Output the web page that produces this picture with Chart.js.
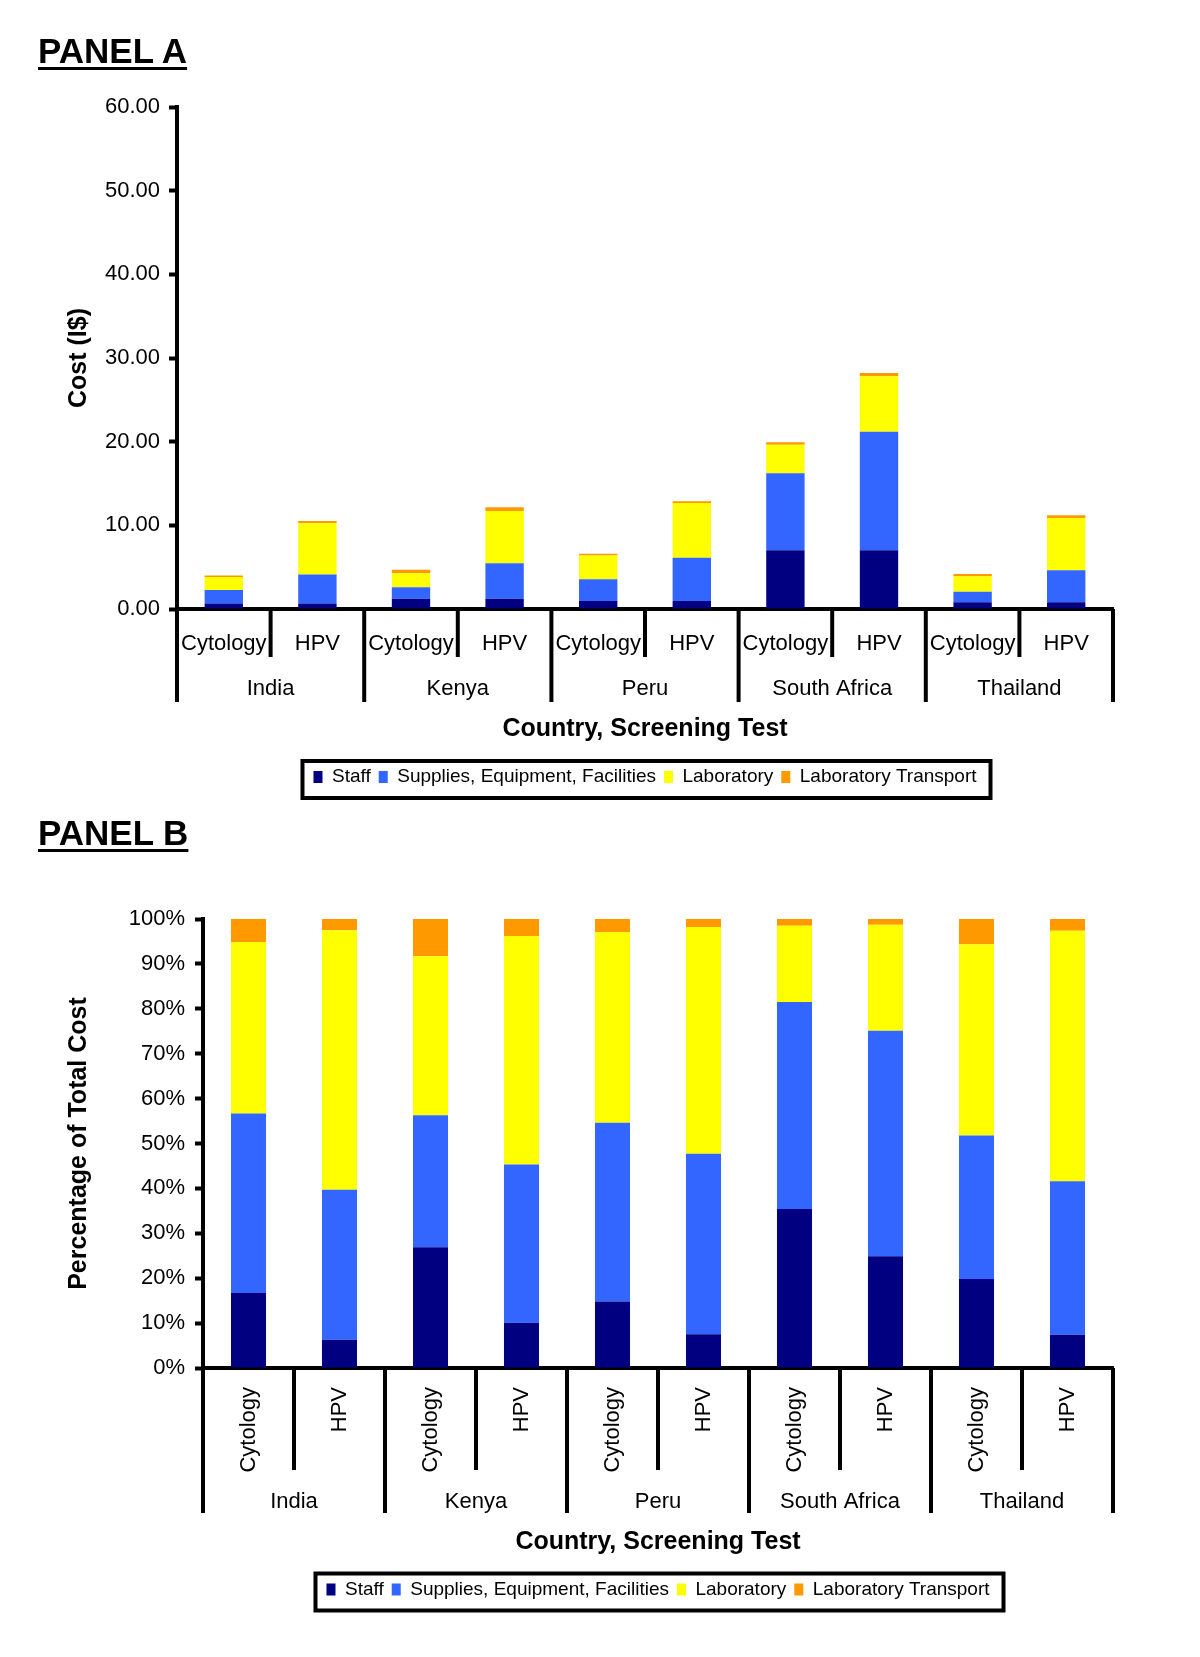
<!DOCTYPE html>
<html>
<head>
<meta charset="utf-8">
<script src="https://cdn.jsdelivr.net/npm/chart.js@4.4.1/dist/chart.umd.min.js"></script>
<style>
  body { margin: 0; background: #fff; width: 1200px; height: 1657px; position: relative; overflow: hidden; }
  canvas { position: absolute; left: 0; }
  #chartA { top: 0; }
  #chartB { top: 815px; }
  .panel-title {
    position: absolute; left: 38px; margin: 0;
    font: bold 35px "Liberation Sans", Arial, sans-serif; line-height: 35px;
    text-decoration: underline; text-decoration-thickness: 3px; text-underline-offset: 4px;
  }
</style>
</head>
<body>
<canvas id="chartA" width="1200" height="815"></canvas>
<canvas id="chartB" width="1200" height="842"></canvas>
<div class="panel-title" style="top:33px">PANEL A</div>
<div class="panel-title" style="top:815px">PANEL B</div>
<script>
var countries = ['India', 'Kenya', 'Peru', 'South Africa', 'Thailand'];
var tests = ['Cytology', 'HPV'];
var seriesNames = ['Staff', 'Supplies, Equipment, Facilities', 'Laboratory', 'Laboratory Transport'];
var seriesColors = ['#000080', '#3366FF', '#FFFF00', '#FF9900'];

// panel A - cost (I$), one value per country/test in label order
var costStaff     = [0.66, 0.66, 1.24, 1.24, 0.97, 0.97, 7.03, 7.03, 0.80, 0.80];
var costSupplies  = [1.60, 3.45, 1.36, 4.22, 2.60, 5.15, 9.20, 14.15, 1.27, 3.82];
var costLab       = [1.55, 6.15, 1.68, 6.25, 2.82, 6.55, 3.40, 6.65, 1.83, 6.26];
var costTransport = [0.20, 0.26, 0.40, 0.45, 0.20, 0.22, 0.30, 0.37, 0.28, 0.32];

// panel B - share of total cost (%)
var pctStaff     = [16.7, 6.3, 26.9, 10.1, 14.8, 7.5, 35.4, 24.9, 19.8, 7.4];
var pctSupplies  = [40.0, 33.4, 29.4, 35.2, 39.8, 40.2, 46.1, 50.2, 32.0, 34.2];
var pctLab       = [38.2, 57.8, 35.4, 50.9, 42.5, 50.5, 17.0, 23.6, 42.6, 55.8];
var pctTransport = [5.1, 2.5, 8.3, 3.8, 2.9, 1.8, 1.5, 1.3, 5.6, 2.6];

var FONT = '"Liberation Sans", Arial, Helvetica, sans-serif';
Chart.defaults.font.family = FONT;
Chart.defaults.color = '#000';

var labels = [];
countries.forEach(function (c) {
  tests.forEach(function (t) { labels.push(t); });
});

function makeDatasets(arrays, barPct) {
  return arrays.map(function (arr, i) {
    return {
      label: seriesNames[i],
      data: arr,
      backgroundColor: seriesColors[i],
      borderColor: seriesColors[i],
      borderWidth: 0,
      barPercentage: barPct,
      categoryPercentage: 1
    };
  });
}

var LEGEND_FONT = 19, LEGEND_PAD = 8, LEGEND_BOX = 9;

// excel-style two level category axis + boxed legend
var groupAxis = {
  id: 'groupAxis',
  afterLayout: function (chart) {
    // centre the legend under the plot area, not the whole canvas
    var L = chart.legend, a = chart.chartArea;
    var dx = (a.left + a.right) / 2 - (L.left + L.right) / 2;
    L.left += dx;
    L.right += dx;
  },
  afterDraw: function (chart, args, opts) {
    var x = chart.scales.x, ctx = chart.ctx;
    var n = chart.data.labels.length;
    var half = (x.getPixelForValue(1) - x.getPixelForValue(0)) / 2;
    ctx.save();
    ctx.strokeStyle = '#000';
    ctx.lineWidth = 4;
    for (var i = 0; i <= n; i++) {
      var px = i < n ? x.getPixelForValue(i) - half : x.getPixelForValue(n - 1) + half;
      var end = (i % tests.length === 0) ? opts.longEnd : opts.shortEnd;
      ctx.beginPath();
      ctx.moveTo(px, x.top);
      ctx.lineTo(px, end);
      ctx.stroke();
    }
    ctx.fillStyle = '#000';
    ctx.font = '22px ' + FONT;
    ctx.textAlign = 'center';
    ctx.textBaseline = 'middle';
    countries.forEach(function (c, k) {
      var cx = (x.getPixelForValue(k * 2) + x.getPixelForValue(k * 2 + 1)) / 2;
      ctx.fillText(c, cx, opts.countryY);
    });
    // frame around legend
    var L = chart.legend, lw = L.lineWidths[0];
    var sx = (L.left + LEGEND_PAD + L.right - lw) / 2;
    var ex = sx + lw - LEGEND_PAD;
    var cy = L.top + LEGEND_PAD + LEGEND_FONT / 2;
    ctx.lineWidth = 4;
    ctx.strokeRect(sx - 11, cy - 16, ex + 14 - (sx - 11), 37);
    ctx.restore();
  }
};

function makeOptions(cfg) {
  return {
    responsive: false,
    devicePixelRatio: 1,
    animation: false,
    events: [],
    layout: { padding: { top: cfg.top, left: 0, right: 87, bottom: cfg.bottom } },
    plugins: {
      legend: {
        position: 'bottom',
        labels: {
          boxWidth: LEGEND_BOX,
          boxHeight: 12,
          padding: LEGEND_PAD,
          color: '#000',
          font: { size: LEGEND_FONT }
        }
      },
      tooltip: { enabled: false },
      groupAxis: { shortEnd: cfg.shortEnd, longEnd: cfg.longEnd, countryY: cfg.countryY }
    },
    scales: {
      x: {
        stacked: true,
        afterFit: function (s) { s.height = cfg.xHeight; },
        grid: { display: true, drawOnChartArea: false, drawTicks: false },
        border: { color: '#000', width: 4 },
        ticks: {
          autoSkip: false,
          minRotation: cfg.rotation,
          maxRotation: cfg.rotation,
          padding: cfg.xPad,
          color: '#000',
          font: { size: 22 }
        },
        title: {
          display: true,
          text: 'Country, Screening Test',
          color: '#000',
          font: { size: 25, weight: 'bold' },
          padding: { top: 0, bottom: cfg.titlePad }
        }
      },
      y: {
        stacked: true,
        min: 0,
        max: cfg.yMax,
        afterFit: function (s) { s.width = cfg.yWidth; },
        grid: { drawOnChartArea: false, drawTicks: true, tickLength: 8, tickWidth: 4, tickColor: '#000' },
        border: { color: '#000', width: 4 },
        ticks: {
          stepSize: 10,
          padding: cfg.yPad,
          color: '#000',
          font: { size: 22 },
          callback: cfg.fmt
        },
        title: {
          display: true,
          text: cfg.yTitle,
          color: '#000',
          font: { size: 25, weight: 'bold' },
          padding: { top: 64, bottom: 0 }
        }
      }
    }
  };
}

new Chart(document.getElementById('chartA'), {
  type: 'bar',
  data: { labels: labels, datasets: makeDatasets([costStaff, costSupplies, costLab, costTransport], 0.41) },
  options: makeOptions({
    top: 107, bottom: 18.5, xHeight: 150.5, titlePad: 15.5, xPad: 22, yWidth: 177, yPad: 9,
    yMax: 60, rotation: 0, yTitle: 'Cost (I$)',
    shortEnd: 657, longEnd: 702, countryY: 689,
    fmt: function (v) { return Number(v).toFixed(2); }
  }),
  plugins: [groupAxis]
});

new Chart(document.getElementById('chartB'), {
  type: 'bar',
  data: { labels: labels, datasets: makeDatasets([pctStaff, pctSupplies, pctLab, pctTransport], 0.385) },
  options: makeOptions({
    top: 104, bottom: 48, xHeight: 204, titlePad: 15, xPad: 19, yWidth: 203, yPad: 10,
    yMax: 100, rotation: 90, yTitle: 'Percentage of Total Cost',
    shortEnd: 655, longEnd: 698, countryY: 687,
    fmt: function (v) { return v + '%'; }
  }),
  plugins: [groupAxis]
});
</script>
</body>
</html>
